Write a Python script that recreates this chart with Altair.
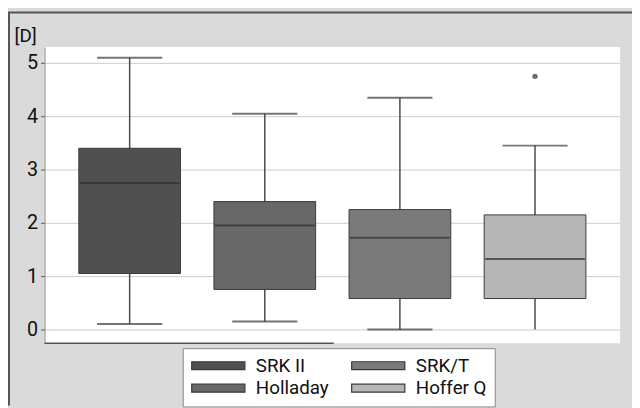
import altair as alt
import pandas as pd

formulas = ["SRK II", "Holladay", "SRK/T", "Hoffer Q"]
legend_order = ["SRK II", "SRK/T", "Holladay", "Hoffer Q"]
colors = ["#505050", "#686868", "#7a7a7a", "#b6b6b6"]
mins = [0.1, 0.15, 0.0, 0.0]
q1s = [1.05, 0.75, 0.58, 0.58]
medians = [2.75, 1.95, 1.72, 1.32]
q3s = [3.4, 2.4, 2.25, 2.15]
maxs = [5.1, 4.05, 4.35, 3.45]
low_cap = [True, True, True, False]
outlier_formula = ["Hoffer Q"]
outlier_value = [4.75]
y_ticks = [0, 1, 2, 3, 4, 5]

FONT = "Roboto"

df = pd.DataFrame({
    "formula": formulas, "min": mins, "q1": q1s, "median": medians,
    "q3": q3s, "max": maxs,
})
caps = pd.concat([
    pd.DataFrame({"formula": formulas, "v": maxs}),
    pd.DataFrame({"formula": [f for f, c in zip(formulas, low_cap) if c],
                  "v": [m for m, c in zip(mins, low_cap) if c]}),
])
out = pd.DataFrame({"formula": outlier_formula, "v": outlier_value})

xenc = alt.X("formula:N", sort=formulas, axis=None,
             scale=alt.Scale(paddingInner=0, paddingOuter=0.13))
yscale = alt.Scale(domain=[-0.26, 5.3], nice=False, zero=False)

base = alt.Chart(df)

whisk = base.mark_rule(color="#4a4a4a", strokeWidth=1.5).encode(
    x=xenc,
    y=alt.Y("min:Q", scale=yscale, title="[D]",
            axis=alt.Axis(values=y_ticks, format="d", grid=True, gridColor="#cccccc",
                          domainColor="#8a8a8a", tickColor="#555555", tickSize=4,
                          labelFont=FONT, labelFontSize=20, labelColor="#111111",
                          labelPadding=3, titleAngle=0, titleAlign="left",
                          titleBaseline="alphabetic", titleX=-31, titleY=-6,
                          titleFont=FONT, titleFontSize=19, titleFontWeight="normal",
                          titleColor="#111111")),
    y2="max:Q",
)

box = base.mark_bar(size=103, stroke="#3a3a3a", strokeWidth=1, opacity=1).encode(
    x=xenc,
    y=alt.Y("q1:Q", scale=yscale),
    y2="q3:Q",
    color=alt.Color("formula:N", sort=legend_order,
                    scale=alt.Scale(domain=formulas, range=colors),
                    legend=alt.Legend(
                        title=None, orient="none", legendX=140, legendY=305,
                        columns=2, columnPadding=22, rowPadding=3, clipHeight=19,
                        symbolType="M-1,-0.15L1,-0.15L1,0.15L-1,0.15Z",
                        symbolSize=2900, symbolStrokeColor="#3a3a3a",
                        symbolStrokeWidth=1.2, symbolOpacity=1,
                        labelFont=FONT, labelFontSize=19, labelColor="#111111",
                        labelOffset=10, fillColor="white", strokeColor="#888888",
                        padding=8, labelLimit=200)),
)

med = base.mark_tick(thickness=2, size=101, color="#2e2e2e").encode(
    x=xenc, y=alt.Y("median:Q", scale=yscale))

cap = alt.Chart(caps).mark_tick(thickness=2, size=66, color="#3a3a3a").encode(
    x=xenc, y=alt.Y("v:Q", scale=yscale))

pt = alt.Chart(out).mark_point(filled=True, size=30, color="#6e6e6e", opacity=1).encode(
    x=xenc, y=alt.Y("v:Q", scale=yscale))

# partial bottom axis line and outer frame lines (decoration)
bottom_line = alt.Chart(pd.DataFrame({"a": [0]})).mark_rule(color="#555555", strokeWidth=1.5).encode(
    x=alt.value(0), x2=alt.value(293), y=alt.value(300))
top_line = alt.Chart(pd.DataFrame({"a": [0]})).mark_rule(color="#555555", strokeWidth=2).encode(
    x=alt.value(-37), x2=alt.value(595), y=alt.value(-35))
left_line = alt.Chart(pd.DataFrame({"a": [0]})).mark_rule(color="#555555", strokeWidth=2).encode(
    x=alt.value(-36), y=alt.value(-35), y2=alt.value(363))

chart = alt.layer(whisk, box, med, cap, pt, bottom_line, top_line, left_line).properties(
    width=583, height=300,
    autosize=alt.AutoSizeParams(type="none"),
    padding={"left": 37, "top": 37, "right": 12, "bottom": 63},
    background="#dadada",
).configure_view(fill="white", stroke=None)

chart.save("out.html", embed_options={"renderer": "svg", "actions": False})
